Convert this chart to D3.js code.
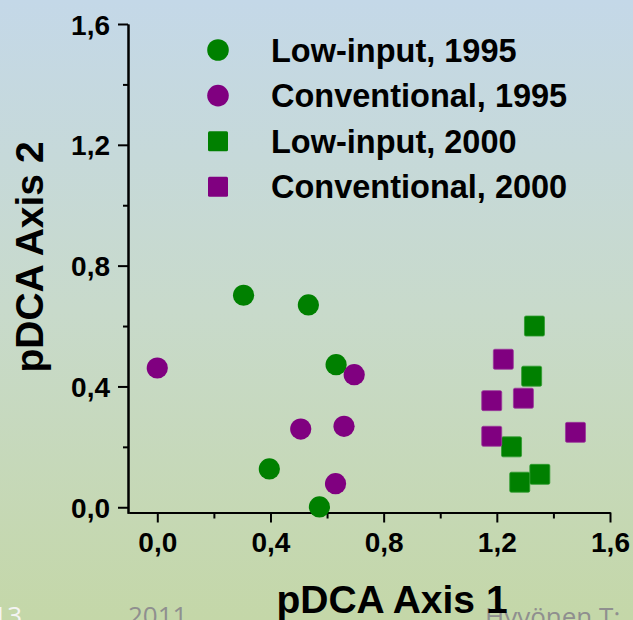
<!DOCTYPE html>
<html>
<head>
<meta charset="utf-8">
<script src="https://cdn.jsdelivr.net/npm/d3@7/dist/d3.min.js"></script>
<style>
  html, body { margin: 0; padding: 0; }
  body { width: 633px; height: 620px; overflow: hidden; }
  svg text { font-family: "Liberation Sans", Arial, sans-serif; font-weight: bold; }
</style>
</head>
<body>
<div id="chart"></div>
<script>
// axis 1 / axis 2 scores
const lowInput1995 = [[0.305, 0.702], [0.534, 0.670], [0.632, 0.472], [0.396, 0.127], [0.573, 0.001]];
const conventional1995 = [[0.0, 0.461], [0.696, 0.439], [0.507, 0.259], [0.660, 0.268], [0.630, 0.078]];
const lowInput2000 = [[1.333, 0.600], [1.323, 0.434], [1.252, 0.200], [1.352, 0.109], [1.281, 0.083]];
const conventional2000 = [[1.223, 0.490], [1.182, 0.353], [1.294, 0.361], [1.182, 0.235], [1.478, 0.248]];

const seriesNames = ['Low-input, 1995', 'Conventional, 1995', 'Low-input, 2000', 'Conventional, 2000'];
const majorTicks = [0, 0.4, 0.8, 1.2, 1.6];
const minorTicks = [0.2, 0.6, 1.0, 1.4];

const W = 633, H = 620;
const green = '#008000', purple = '#800080';

const series = [
  { name: seriesNames[0], pts: lowInput1995, color: green, shape: 'circle' },
  { name: seriesNames[1], pts: conventional1995, color: purple, shape: 'circle' },
  { name: seriesNames[2], pts: lowInput2000, color: green, shape: 'square' },
  { name: seriesNames[3], pts: conventional2000, color: purple, shape: 'square' },
];

const svg = d3.select('#chart').append('svg')
  .attr('width', W)
  .attr('height', H);

// slide background
const grad = svg.append('defs').append('linearGradient')
  .attr('id', 'bg')
  .attr('x1', 0).attr('y1', 0).attr('x2', 0).attr('y2', 1);
grad.append('stop').attr('offset', '0%').attr('stop-color', '#c4d8e8');
grad.append('stop').attr('offset', '50%').attr('stop-color', '#c8dacb');
grad.append('stop').attr('offset', '100%').attr('stop-color', '#c4d7a8');
svg.append('rect').attr('width', W).attr('height', H).attr('fill', 'url(#bg)');

const fmt = d => d3.format('.1f')(d).replace('.', ',');

const x = d3.scaleLinear().domain([-0.1, 1.6]).range([129, 610]);
const y = d3.scaleLinear().domain([-0.02, 1.6]).range([513.3, 24]);

// footer of the slide (cut off by the bottom edge, as in the slide)
const footer = svg.append('g')
  .style('font-family', '"Open Sans", sans-serif')
  .style('font-weight', 'normal')
  .style('font-size', '26px');
footer.append('text').attr('x', 22).attr('y', 625).attr('text-anchor', 'end')
  .attr('fill', '#f4f4f4').style('font-weight', 'normal').style('font-family', '"Open Sans", sans-serif')
  .text('13');
footer.append('text').attr('x', 128).attr('y', 625)
  .attr('fill', '#8f8f8f').style('font-weight', 'normal').style('font-family', '"Open Sans", sans-serif')
  .text('2011');
footer.append('text').attr('x', 485).attr('y', 626)
  .attr('fill', '#8f8f8f').style('font-weight', 'normal').style('font-family', '"Open Sans", sans-serif')
  .text('Hyvönen T: ');

// axes
const yMinor = d3.axisLeft(y).tickValues(minorTicks).tickSize(5).tickSizeOuter(0).tickFormat('');
const yMajor = d3.axisLeft(y).tickValues(majorTicks).tickSize(10).tickSizeOuter(0)
  .tickPadding(8).tickFormat(fmt);
const xMinor = d3.axisBottom(x).tickValues(minorTicks).tickSize(6).tickSizeOuter(0).tickFormat('');
const xMajor = d3.axisBottom(x).tickValues(majorTicks).tickSize(10).tickSizeOuter(0)
  .tickPadding(10).tickFormat(fmt);

const gy = svg.append('g').attr('transform', 'translate(128,0)');
gy.append('g').call(yMinor);
gy.append('g').call(yMajor);

const gx = svg.append('g').attr('transform', 'translate(0,' + 512.5 + ')');
gx.append('g').call(xMinor);
gx.append('g').call(xMajor);

svg.selectAll('.domain, .tick line')
  .attr('stroke', '#000')
  .attr('stroke-width', 2);
svg.selectAll('.tick text')
  .attr('fill', '#000')
  .style('font-size', '28px')
  .style('font-family', '"Liberation Sans", Arial, sans-serif')
  .style('font-weight', 'bold');
gy.selectAll('.tick text').attr('dy', '0.36em');
gx.selectAll('.tick text').attr('dy', '0.7em');

// axis titles
svg.append('text')
  .attr('transform', 'translate(43,257) rotate(-90)')
  .attr('text-anchor', 'middle')
  .style('font-size', '39px')
  .text('pDCA Axis 2');

svg.append('text')
  .attr('x', 392)
  .attr('y', 613)
  .attr('text-anchor', 'middle')
  .style('font-size', '39px')
  .text('pDCA Axis 1');

// points
const r = 10.6, side = 20;
series.forEach(function(s) {
  const g = svg.append('g');
  if (s.shape === 'circle') {
    g.selectAll('circle').data(s.pts).enter().append('circle')
      .attr('cx', d => x(d[0]))
      .attr('cy', d => y(d[1]))
      .attr('r', r)
      .attr('fill', s.color);
  } else {
    g.selectAll('rect').data(s.pts).enter().append('rect')
      .attr('x', d => x(d[0]) - side / 2)
      .attr('y', d => y(d[1]) - side / 2)
      .attr('width', side)
      .attr('height', side)
      .attr('rx', 1.5)
      .attr('fill', s.color)
      .attr('stroke', s.color === green ? '#2f9a2f' : '#9a3a9a')
      .attr('stroke-width', 0.8);
  }
});

// legend
const legend = svg.append('g').attr('transform', 'translate(218,50)');
const rowH = 45.6;
series.forEach(function(s, i) {
  const row = legend.append('g').attr('transform', 'translate(0,' + (i * rowH) + ')');
  if (s.shape === 'circle') {
    row.append('circle').attr('r', 10.8).attr('fill', s.color);
  } else {
    row.append('rect').attr('x', -10).attr('y', -10).attr('width', 20).attr('height', 20)
      .attr('rx', 1.5).attr('fill', s.color);
  }
  row.append('text')
    .attr('x', 53)
    .attr('y', 11.5)
    .style('font-size', '32.5px')
    .attr('fill', '#000')
    .text(s.name);
});
</script>
</body>
</html>
